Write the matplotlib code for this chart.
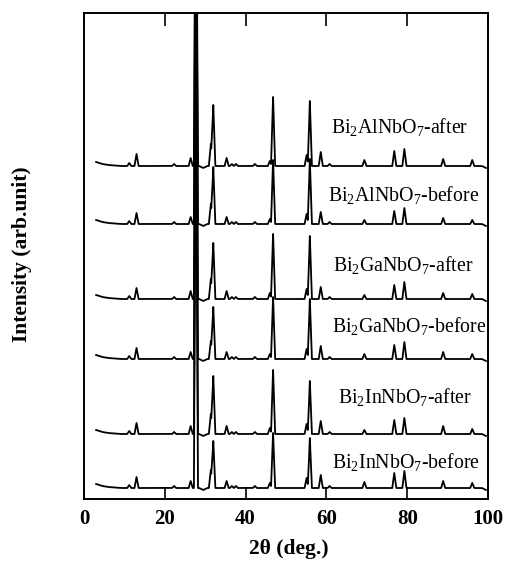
import numpy as np
import matplotlib
matplotlib.use("Agg")
import matplotlib.pyplot as plt

plt.rcParams.update({
    "font.family": "Liberation Serif",
    "mathtext.default": "regular",
    "axes.linewidth": 1.4,
})

# 2theta positions (deg) of the reflections, same for all six patterns
peak_pos = [11.2, 13.0, 22.3, 26.4, 27.7, 31.4, 32.0, 35.3, 36.6, 37.6,
            42.3, 46.0, 46.8, 55.1, 55.9, 58.6, 60.8, 69.4, 76.8, 79.3,
            88.9, 96.1]

# peak heights (arb. units), one list per pattern
al_after = [3, 12, 2, 8, 400, 22, 61, 8, 2, 2, 2, 5, 69, 11, 65, 14, 2, 6, 15, 17, 7, 6]
al_before = [3, 11, 2, 7, 400, 20, 57, 7, 2, 2, 2, 5, 64, 10, 65, 12, 2, 4, 13, 16, 6, 4]
ga_after = [3, 11, 2, 8, 400, 20, 56, 8, 2, 2, 2, 6, 65, 10, 63, 12, 2, 4, 14, 17, 6, 5]
ga_before = [3, 11, 2, 7, 400, 18, 52, 7, 2, 2, 2, 5, 62, 10, 60, 13, 2, 5, 14, 17, 7, 5]
in_after = [3, 11, 2, 8, 400, 20, 58, 8, 2, 2, 2, 6, 64, 10, 53, 13, 2, 4, 14, 16, 8, 5]
in_before = [3, 11, 2, 7, 400, 18, 47, 7, 2, 2, 2, 5, 55, 10, 50, 13, 2, 6, 15, 17, 7, 5]

# background of the scans
bg_pos = [3.0, 4.5, 6.0, 9.0, 28.5, 29.5, 30.5, 98.5, 99.5]
bg_val = [4, 2, 1, 0, 0, -2, 0, 0, -2]

names = ["Bi$_2$AlNbO$_7$-after", "Bi$_2$AlNbO$_7$-before",
         "Bi$_2$GaNbO$_7$-after", "Bi$_2$GaNbO$_7$-before",
         "Bi$_2$InNbO$_7$-after", "Bi$_2$InNbO$_7$-before"]
offsets = [333, 275, 200, 140, 65, 11]
label_x = [61.1, 60.4, 61.6, 61.4, 62.9, 61.4]
label_y = [372, 304, 234, 173, 102, 37]

patterns = [al_after, al_before, ga_after, ga_before, in_after, in_before]

tt = np.arange(3.0, 99.5, 0.02)
half_w = 0.5

fig = plt.figure(figsize=(5.05, 5.65), dpi=100)
ax = fig.add_axes([84 / 505, 66 / 565, 404 / 505, 486 / 565])

for heights, off in zip(patterns, offsets):
    y = np.interp(tt, bg_pos, bg_val)
    for p, h in zip(peak_pos, heights):
        y = y + h * np.clip(1 - np.abs(tt - p) / half_w, 0, None)
    ax.plot(tt, y + off, color="black", lw=1.3)

for name, lx, ly in zip(names, label_x, label_y):
    ax.text(lx, ly, name, fontsize=14.3, ha="left", va="center")

ax.set_xlim(0, 100)
ax.set_ylim(0, 486)
ax.set_xticks([0, 20, 40, 60, 80, 100])
ax.set_yticks([])
ax.tick_params(axis="x", direction="in", length=9, width=1.2, top=True,
               labelsize=15, pad=7)
for lab in ax.get_xticklabels():
    lab.set_fontweight("bold")

fig.text(289 / 505, 1 - 549 / 565, "2θ (deg.)", fontsize=15.5, fontweight="bold",
         ha="center", va="center")
fig.text(22 / 505, 1 - 254 / 565, "Intensity (arb.unit)", fontsize=15.5,
         fontweight="bold", rotation=90, ha="center", va="center")

fig.savefig("out.png", dpi=100)
